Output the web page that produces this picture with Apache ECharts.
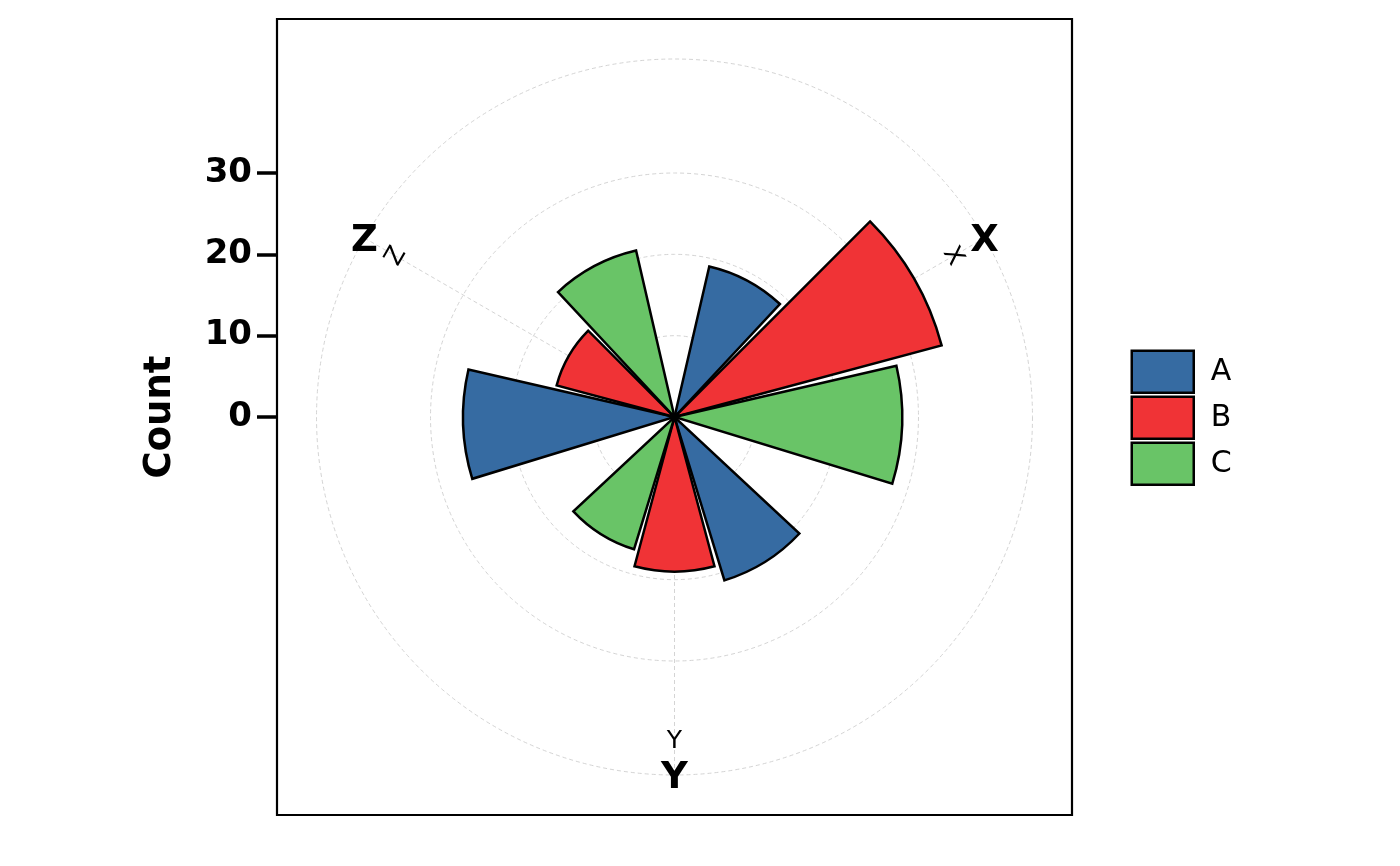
<!DOCTYPE html>
<html><head><meta charset="utf-8">
<script src="https://cdn.jsdelivr.net/npm/echarts@6/dist/echarts.min.js"></script>
<style>html,body{margin:0;padding:0;background:#fff}#c{width:1400px;height:866px}</style>
</head><body><div id="c"></div>
<script>
// ---- data ----
const categories = ['X', 'Y', 'Z'];
const groups = ['A', 'B', 'C'];
const valuesA = [19, 21, 26];
const valuesB = [34, 19, 15];
const valuesC = [28, 17, 21];
const countTicks = [0, 10, 20, 30];

// ---- styling / layout ----
const groupValues = { A: valuesA, B: valuesB, C: valuesC };
const colors = { A: '#366BA2', B: '#F03336', C: '#69C467' };
const FONT = 'DejaVu Sans';
const CX = 674.5, CY = 417;
const PX_PER_UNIT = 244 / 30;
const OUTER_R = 358;
const R_MAX = OUTER_R / PX_PER_UNIT;
const SMALL_LABEL_R = 323 / PX_PER_UNIT;
const HALF = 398 / PX_PER_UNIT;
const GRID_COLOR = '#d4d4d4';
const DASH = [4, 3];

function tangentRotation(i) {
  const a = 60 + 120 * i;
  return ((((-a) % 180) + 180 + 90) % 180) - 90;
}

const barSeries = groups.map(g => ({
  type: 'bar',
  name: g,
  coordinateSystem: 'polar',
  polarIndex: 0,
  data: groupValues[g],
  barCategoryGap: '21.67%',
  barGap: '6.67%',
  itemStyle: { color: colors[g], borderColor: '#000', borderWidth: 2.5, borderJoin: 'miter' },
  z: 5
}));

const plainText = { color: '#000', fontFamily: FONT, textBorderWidth: 0, textBorderColor: 'rgba(0,0,0,0)', textShadowBlur: 0, opacity: 1 };

const bigLabels = {
  type: 'scatter', name: 'bigLabels', coordinateSystem: 'polar', polarIndex: 0,
  symbolSize: 1, itemStyle: { color: 'rgba(0,0,0,0)' }, silent: true, z: 10,
  data: categories.map(c => ({ name: c, value: [R_MAX, c] })),
  label: Object.assign({ show: true, position: 'inside', formatter: '{b}', fontSize: 37, fontWeight: 'bold', offset: [0, 3.5] }, plainText)
};
const smallLabels = {
  type: 'scatter', name: 'smallLabels', coordinateSystem: 'polar', polarIndex: 0,
  symbolSize: 1, itemStyle: { color: 'rgba(0,0,0,0)' }, silent: true, z: 10,
  data: categories.map((c, i) => ({ name: c, value: [SMALL_LABEL_R, c], label: { rotate: tangentRotation(i) } })),
  label: Object.assign({ show: true, position: 'inside', formatter: '{b}', fontSize: 25, fontWeight: 'normal', offset: [0, 1.5] }, plainText)
};

const hiddenAxis = { axisLine: { show: false }, axisTick: { show: false }, axisLabel: { show: false }, splitLine: { show: false } };
const gridLine = { show: true, lineStyle: { color: GRID_COLOR, type: DASH, width: 1 } };

const chart = echarts.init(document.getElementById('c'), null, { renderer: 'canvas' });
chart.setOption({
  animation: false,
  backgroundColor: '#fff',
  polar: [
    { center: [CX, CY], radius: OUTER_R },
    { center: [CX, CY], radius: 30 * PX_PER_UNIT },
    { center: [CX, CY], radius: OUTER_R }
  ],
  angleAxis: [
    Object.assign({}, hiddenAxis, {
      polarIndex: 0, type: 'category', data: categories, boundaryGap: false,
      startAngle: 30, clockwise: true, splitLine: gridLine
    }),
    Object.assign({}, hiddenAxis, { polarIndex: 1, type: 'value', min: 0, max: 360 }),
    Object.assign({}, hiddenAxis, { polarIndex: 2, type: 'value', min: 0, max: 360, axisLine: gridLine })
  ],
  radiusAxis: [
    Object.assign({}, hiddenAxis, { polarIndex: 0, type: 'value', min: 0, max: R_MAX }),
    Object.assign({}, hiddenAxis, { polarIndex: 1, type: 'value', min: 0, max: 30, interval: 10, splitLine: gridLine }),
    Object.assign({}, hiddenAxis, { polarIndex: 2, type: 'value', min: 0, max: R_MAX })
  ],
  grid: { left: 277, top: 19, width: 795, height: 796, show: false, containLabel: false },
  xAxis: { type: 'value', min: 0, max: 1, show: false },
  yAxis: {
    type: 'value', min: -HALF, max: HALF,
    axisLine: { show: false },
    axisTick: { show: true, customValues: countTicks, length: 20, lineStyle: { color: '#000', width: 3.5 } },
    axisLabel: { customValues: countTicks, margin: 25, fontSize: 34, fontWeight: 'bold', color: '#000', fontFamily: FONT, padding: [5, 0, 0, 0] },
    splitLine: { show: false },
    name: 'Count', nameLocation: 'middle', nameGap: 98, nameRotate: 90,
    nameTextStyle: { fontSize: 37, fontWeight: 'bold', color: '#000', fontFamily: FONT }
  },
  legend: {
    data: groups, orient: 'vertical', left: 1130.5, top: 349.5, padding: 0,
    itemWidth: 62, itemHeight: 42, itemGap: 1.5, icon: 'rect',
    itemStyle: { borderColor: '#000', borderWidth: 2.5 },
    textStyle: { fontSize: 30, color: '#000', fontFamily: FONT, padding: [0, 0, 0, 12] },
    selectedMode: false
  },
  graphic: [{
    type: 'rect', z: 100, silent: true,
    shape: { x: 277, y: 19, width: 795, height: 796 },
    style: { fill: 'none', stroke: '#000', lineWidth: 2.2 }
  }],
  series: [...barSeries, bigLabels, smallLabels]
});
</script>
</body></html>
